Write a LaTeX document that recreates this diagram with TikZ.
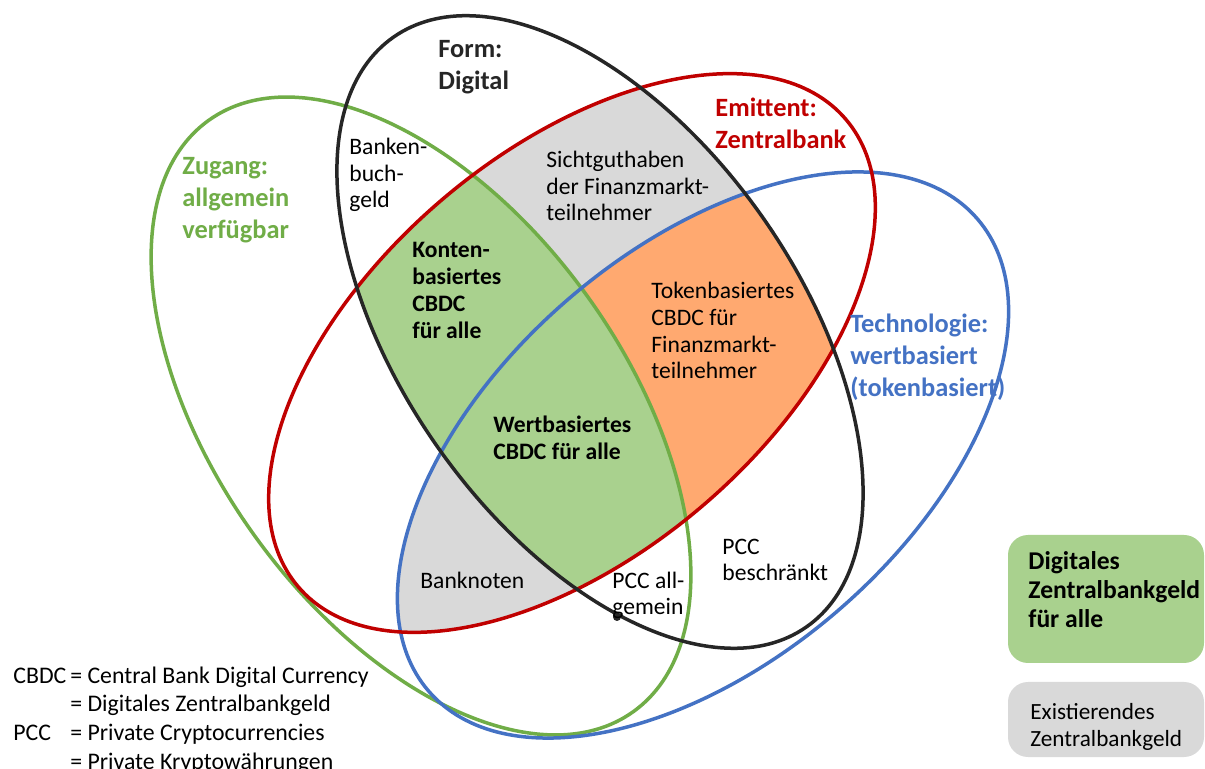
\documentclass[tikz,border=0pt]{standalone}
\usepackage{fontspec}
\setmainfont{Carlito}

\definecolor{ringblack}{RGB}{38,38,38}
\definecolor{ringred}{RGB}{192,0,0}
\definecolor{ringgreen}{RGB}{112,173,71}
\definecolor{ringblue}{RGB}{68,114,196}
\definecolor{fillgreen}{RGB}{169,209,142}
\definecolor{fillgray}{RGB}{217,217,217}
\definecolor{fillorange}{RGB}{255,169,112}

\begin{document}
\begin{tikzpicture}[x=0.5pt, y=-0.5pt,
  ring/.style={line width=1.75pt},
  formring/.style={shift={(600,332)}, rotate=-55},
  emitring/.style={shift={(572,353)}, rotate=40.5},
  zugring/.style={shift={(421,416)}, rotate=-54.3},
  techring/.style={shift={(703,455)}, rotate=40.7},
  formsize/.style={x radius=360, y radius=199},
  emitsize/.style={x radius=360, y radius=201},
  zugsize/.style={x radius=364, y radius=205},
  techsize/.style={x radius=362, y radius=206},
  titlelbl/.style={anchor=base west, inner sep=0pt, align=left, font=\fontsize{13.2}{16}\selectfont\bfseries},
  celltxt/.style={anchor=base west, inner sep=0pt, align=left, font=\fontsize{11.8}{13.4}\selectfont},
  cellbold/.style={celltxt, font=\fontsize{11.8}{13.5}\selectfont\bfseries},
  boxtxt/.style={anchor=base west, inner sep=0pt, align=left}]

  \useasboundingbox (0,0) rectangle (1205,769);
  \fill[white] (0,0) rectangle (1205,769);

  % shaded areas
  \begin{scope}
    \clip[emitring] (0,0) ellipse [emitsize];
    \begin{scope}
      \clip[techring] (0,0) ellipse [techsize];
      \clip[zugring] (0,0) ellipse [zugsize];
      \fill[fillgray] (0,0) rectangle (1205,769);
    \end{scope}
    \clip[formring] (0,0) ellipse [formsize];
    \fill[fillgray] (0,0) rectangle (1205,769);
    \begin{scope}
      \clip[techring] (0,0) ellipse [techsize];
      \fill[fillorange] (0,0) rectangle (1205,769);
    \end{scope}
    \clip[zugring] (0,0) ellipse [zugsize];
    \fill[fillgreen] (0,0) rectangle (1205,769);
  \end{scope}

  % the four sets
  \draw[ring, ringgreen, zugring] (0,0) ellipse [zugsize];
  \draw[ring, ringblue, techring] (0,0) ellipse [techsize];
  \draw[ring, ringred, emitring] (0,0) ellipse [emitsize];
  \draw[ring, ringblack, formring] (0,0) ellipse [formsize];
  \fill[ringblack] (617,617) circle [radius=4];

  % set labels (anchored at the last line)
  \node[titlelbl, text=ringblack] (form) at (438,90) {Form:\\Digital};
  \node[titlelbl, text=ringred] (emittent) at (715,149) {Emittent:\\Zentralbank};
  \node[titlelbl, text=ringgreen] (zugang) at (182,239) {Zugang:\\allgemein\\verfügbar};
  \node[titlelbl, text=ringblue] (technik) at (850,397) {Technologie:\\wertbasiert\\(tokenbasiert)};

  % area labels
  \node[celltxt] (buchgeld) at (349,208) {Banken-\\buch-\\geld};
  \node[celltxt] (sicht) at (546,221) {Sichtguthaben\\der Finanzmarkt-\\teilnehmer};
  \node[cellbold] (konten) at (412,339) {Konten-\\basiertes\\CBDC\\für alle};
  \node[celltxt] (token) at (651,379) {Tokenbasiertes\\CBDC für\\Finanzmarkt-\\teilnehmer};
  \node[cellbold] (wert) at (493,460) {Wertbasiertes\\CBDC für alle};
  \node[celltxt] (banknoten) at (420,589) {Banknoten};
  \node[celltxt] (pccall) at (612,615) {PCC all-\\gemein};
  \node[celltxt] (pccbes) at (722,581) {PCC\\beschränkt};

  % key
  \node[anchor=base west, inner sep=0pt, font=\fontsize{11.9}{14.35}\selectfont] (legend) at (13,683)
    {\begin{tabular}[t]{@{}l@{\,}l@{}}
      CBDC & = Central Bank Digital Currency\\
           & = Digitales Zentralbankgeld\\
      PCC  & = Private Cryptocurrencies\\
           & = Private Kryptowährungen
    \end{tabular}};

  \fill[fillgreen, rounded corners=10pt] (1008,535) rectangle (1204,663);
  \node[boxtxt, font=\fontsize{12.8}{14.5}\selectfont\bfseries] (digital) at (1028,628) {Digitales\\Zentralbankgeld\\für alle};
  \fill[fillgray, rounded corners=10pt] (1008,682) rectangle (1204,757);
  \node[boxtxt, font=\fontsize{11.6}{13.5}\selectfont] (existing) at (1030,747) {Existierendes\\Zentralbankgeld};
\end{tikzpicture}
\end{document}
